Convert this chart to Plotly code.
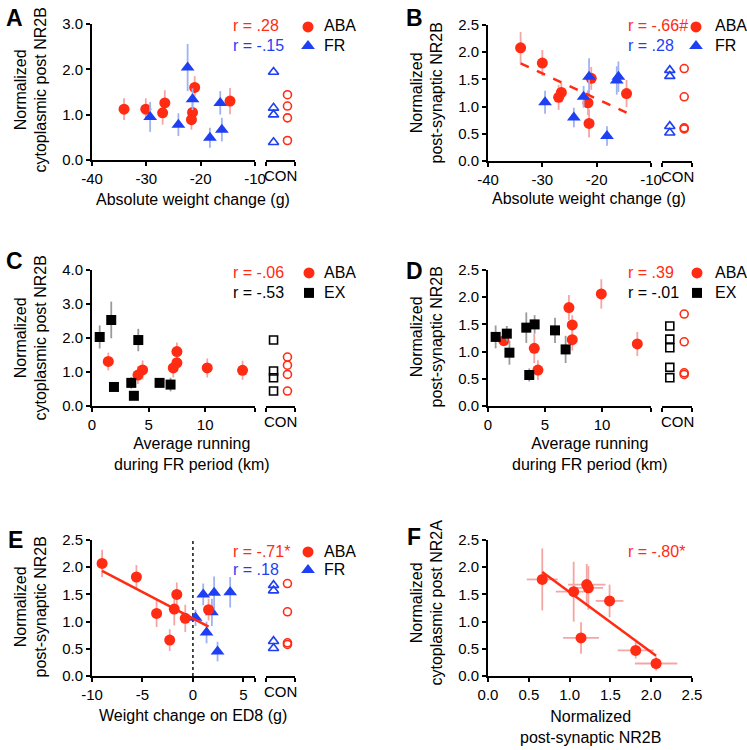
import numpy as np
import plotly.graph_objects as go

W, H = 747, 750
FONT = "Liberation Sans, Arial, Helvetica, sans-serif"
RED = "#FF2B12"
BLUE = "#1F3FF2"
BLACK = "#000000"
RED_ERR = "#F6A5A5"
BLUE_ERR = "#9FB2F2"
GRAY_ERR = "#9A9A9A"

# ---------------- data ----------------
# Panel A: cytoplasmic post NR2B vs absolute weight change
A_ABA_x = [-34.1, -30.1, -27.0, -26.6, -21.1, -21.5, -21.7, -14.6]
A_ABA_y = [1.12, 1.12, 1.04, 1.26, 1.60, 1.05, 0.89, 1.30]
A_ABA_e = [0.24, 0.24, 0.26, 0.28, 0.25, 0.25, 0.22, 0.29]
A_FR_x = [-29.3, -24.1, -22.4, -21.5, -18.3, -16.4, -16.1]
A_FR_y = [0.95, 0.78, 2.04, 1.34, 0.49, 1.26, 0.67]
A_FR_e = [0.33, 0.25, 0.52, 0.24, 0.22, 0.26, 0.26]
A_CON_ABA = [1.44, 1.19, 0.93, 0.43]
A_CON_FR = [1.94, 1.15, 1.00, 0.39]

# Panel B: post-synaptic NR2B vs absolute weight change
B_ABA_x = [-34.0, -30.0, -26.5, -27.0, -21.0, -21.6, -21.4, -14.5]
B_ABA_y = [2.08, 1.80, 1.26, 1.17, 1.52, 1.07, 0.69, 1.24]
B_ABA_e = [0.29, 0.24, 0.18, 0.23, 0.21, 0.23, 0.26, 0.25]
B_FR_x = [-29.5, -24.2, -22.4, -21.4, -18.1, -16.3, -16.0]
B_FR_y = [1.08, 0.80, 1.18, 1.55, 0.46, 1.48, 1.55]
B_FR_e = [0.21, 0.18, 0.20, 0.34, 0.18, 0.26, 0.28]
B_CON_ABA = [1.70, 1.18, 0.61, 0.59]
B_CON_FR = [1.67, 1.56, 0.64, 0.52]

# Panel C: cytoplasmic post NR2B vs average running
C_ABA_x = [1.44, 4.06, 4.47, 7.18, 7.5, 7.5, 10.18, 13.3]
C_ABA_y = [1.31, 0.91, 1.06, 1.12, 1.60, 1.27, 1.12, 1.05]
C_ABA_e = [0.26, 0.26, 0.28, 0.28, 0.27, 0.26, 0.28, 0.28]
C_EX_x = [0.68, 1.70, 1.94, 3.47, 3.70, 4.09, 5.97, 6.94]
C_EX_y = [2.03, 2.53, 0.56, 0.68, 0.30, 1.94, 0.68, 0.63]
C_EX_e = [0.34, 0.54, 0.08, 0.17, 0.06, 0.33, 0.10, 0.20]
C_CON_ABA = [1.44, 1.20, 0.93, 0.44]
C_CON_EX = [1.94, 1.03, 0.83, 0.44]

# Panel D: post-synaptic NR2B vs average running
D_ABA_x = [1.39, 4.06, 4.38, 7.10, 7.39, 7.39, 9.94, 13.1]
D_ABA_y = [1.20, 1.06, 0.66, 1.81, 1.49, 1.22, 2.06, 1.14]
D_ABA_e = [0.08, 0.27, 0.18, 0.23, 0.18, 0.20, 0.27, 0.22]
D_EX_x = [0.67, 1.65, 1.88, 3.36, 4.09, 3.62, 5.88, 6.81]
D_EX_y = [1.27, 1.33, 0.98, 1.44, 1.50, 0.57, 1.39, 1.04]
D_EX_e = [0.21, 0.14, 0.22, 0.28, 0.17, 0.12, 0.23, 0.25]
D_CON_ABA = [1.69, 1.18, 0.61, 0.58]
D_CON_EX = [1.47, 1.23, 1.07, 0.71, 0.52]

# Panel E: post-synaptic NR2B vs weight change on ED8
E_ABA_x = [-9.0, -5.6, -3.6, -2.3, -1.85, -1.6, -0.76, 1.55]
E_ABA_y = [2.07, 1.82, 1.15, 0.66, 1.23, 1.50, 1.06, 1.22]
E_ABA_e = [0.25, 0.22, 0.25, 0.20, 0.30, 0.22, 0.25, 0.20]
E_FR_x = [0.26, 1.02, 1.35, 1.88, 2.10, 2.44, 3.69]
E_FR_y = [1.07, 1.50, 0.80, 1.17, 1.53, 0.45, 1.54]
E_FR_e = [0.15, 0.20, 0.20, 0.25, 0.30, 0.18, 0.28]
E_CON_ABA = [1.70, 1.18, 0.61, 0.58]
E_CON_FR = [1.67, 1.57, 0.64, 0.51]

# Panel F: cytoplasmic post NR2A vs post-synaptic NR2B (ABA)
F_x = [0.665, 1.05, 1.21, 1.23, 1.49, 1.14, 1.81, 2.06]
F_y = [1.775, 1.55, 1.68, 1.62, 1.38, 0.70, 0.47, 0.23]
F_xe = [0.19, 0.22, 0.23, 0.18, 0.17, 0.22, 0.22, 0.26]
F_ye = [0.57, 0.55, 0.38, 0.40, 0.30, 0.29, 0.15, 0.13]

R_TEXT = {
    "A": [("r = .28", RED), ("r = -.15", BLUE)],
    "B": [("r = -.66#", RED), ("r = .28", BLUE)],
    "C": [("r = -.06", RED), ("r = -.53", BLACK)],
    "D": [("r = .39", RED), ("r = -.01", BLACK)],
    "E": [("r = -.71*", RED), ("r = .18", BLUE)],
    "F": [("r = -.80*", RED)],
}
GROUP_NAMES = {"A": ["ABA", "FR"], "B": ["ABA", "FR"], "C": ["ABA", "EX"],
               "D": ["ABA", "EX"], "E": ["ABA", "FR"]}

# ---------------- layout helpers ----------------
def fx(px):
    return px / W

def fy(px):
    return 1 - px / H

AX = dict(showline=True, linecolor="black", linewidth=2, ticks="outside",
          ticklen=4, tickwidth=2, tickcolor="black", showgrid=False,
          zeroline=False, tickfont=dict(family=FONT, size=15, color="black"),
          fixedrange=True)

def tk(vals, fmt):
    return [fmt.format(v) for v in vals]

y25 = [0, 0.5, 1.0, 1.5, 2.0, 2.5]
panels = [
    dict(key="A", xm=(92, 255), xc=(266, 295), y=(24, 160), xr=[-40, -10],
         xt=[-40, -30, -20, -10], xtt=["-40", "-30", "-20", "-10"],
         yr=[0, 3], yt=[0, 1, 2, 3]),
    dict(key="B", xm=(488, 651), xc=(662, 692), y=(25, 161), xr=[-40, -10],
         xt=[-40, -30, -20, -10], xtt=["-40", "-30", "-20", "-10"],
         yr=[0, 2.5], yt=y25),
    dict(key="C", xm=(92, 255), xc=(266, 295), y=(270, 406), xr=[0, 14.4],
         xt=[0, 5, 10, 14.4], xtt=["0", "5", "10", ""],
         yr=[0, 4], yt=[0, 1, 2, 3, 4]),
    dict(key="D", xm=(488, 651), xc=(662, 692), y=(270, 406), xr=[0, 14.3],
         xt=[0, 5, 10, 14.3], xtt=["0", "5", "10", ""],
         yr=[0, 2.5], yt=y25),
    dict(key="E", xm=(92, 255), xc=(266, 295), y=(540, 676), xr=[-10, 6.15],
         xt=[-10, -5, 0, 5, 6.15], xtt=["-10", "-5", "0", "5", ""],
         yr=[0, 2.5], yt=y25),
    dict(key="F", xm=(488, 692), xc=None, y=(540, 676), xr=[0, 2.5],
         xt=y25, xtt=tk(y25, "{:.1f}"), yr=[0, 2.5], yt=y25),
]

fig = go.Figure()
layout = {}
annotations = []
ids = {}
xn = 1

def xname(n):
    return "x" if n == 1 else f"x{n}"

def xkey(n):
    return "xaxis" if n == 1 else f"xaxis{n}"

for i, p in enumerate(panels):
    yid = i + 1
    yname = "y" if yid == 1 else f"y{yid}"
    ykey = "yaxis" if yid == 1 else f"yaxis{yid}"
    xm = xn
    xn += 1
    layout[xkey(xm)] = dict(domain=[fx(p["xm"][0]), fx(p["xm"][1])], anchor=yname,
                            range=p["xr"], tickmode="array", tickvals=p["xt"],
                            ticktext=p["xtt"], **AX)
    layout[ykey] = dict(domain=[fy(p["y"][1]), fy(p["y"][0])], anchor=xname(xm),
                        range=p["yr"], tickmode="array", tickvals=p["yt"],
                        ticktext=tk(p["yt"], "{:.1f}"), **AX)
    xc = None
    if p["xc"]:
        xc = xn
        xn += 1
        layout[xkey(xc)] = dict(domain=[fx(p["xc"][0]), fx(p["xc"][1])], anchor=yname,
                                range=[0, 1], tickmode="array", tickvals=[0, 1],
                                ticktext=["", ""], **AX)
        annotations.append(dict(text="CON", xref="paper", yref="paper",
                                x=fx((p["xc"][0] + p["xc"][1]) / 2), y=fy(p["y"][1] + 15),
                                xanchor="center", yanchor="middle", showarrow=False,
                                font=dict(family=FONT, size=15, color="black")))
    ids[p["key"]] = (xname(xm), xname(xc) if xc else None, yname)

CON_X_ABA = 0.74
CON_X_OTHER = 0.26

def err_scatter(key, x, y, e, color, ecolor, symbol, size, xe=None):
    xa, _, ya = ids[key]
    tr = go.Scatter(x=x, y=y, mode="markers", xaxis=xa, yaxis=ya, showlegend=False,
                    marker=dict(color=color, symbol=symbol, size=size, line=dict(width=0)),
                    error_y=dict(type="data", array=e, color=ecolor, thickness=1.8, width=0),
                    cliponaxis=False)
    if xe is not None:
        tr.error_x = dict(type="data", array=xe, color=ecolor, thickness=1.8, width=0)
    fig.add_trace(tr)

def con_scatter(key, y, xpos, color, symbol, size):
    _, xa, ya = ids[key]
    fig.add_trace(go.Scatter(x=[xpos] * len(y), y=y, mode="markers", xaxis=xa, yaxis=ya,
                             showlegend=False, cliponaxis=False,
                             marker=dict(color=color, symbol=symbol, size=size,
                                         line=dict(width=1.6, color=color))))

def fit_line(key, x, y, dash):
    xa, _, ya = ids[key]
    k, b = np.polyfit(x, y, 1)
    xs = np.array([min(x), max(x)])
    fig.add_trace(go.Scatter(x=xs, y=k * xs + b, mode="lines", xaxis=xa, yaxis=ya,
                             showlegend=False, line=dict(color=RED, width=2.5, dash=dash)))

CIRC, TRI, SQ = 11, 12, 10

# Panel A
err_scatter("A", A_ABA_x, A_ABA_y, A_ABA_e, RED, RED_ERR, "circle", CIRC)
err_scatter("A", A_FR_x, A_FR_y, A_FR_e, BLUE, BLUE_ERR, "triangle-up", TRI)
con_scatter("A", A_CON_FR, CON_X_OTHER, BLUE, "triangle-up-open", 9)
con_scatter("A", A_CON_ABA, CON_X_ABA, RED, "circle-open", 8)
# Panel B
err_scatter("B", B_ABA_x, B_ABA_y, B_ABA_e, RED, RED_ERR, "circle", CIRC)
err_scatter("B", B_FR_x, B_FR_y, B_FR_e, BLUE, BLUE_ERR, "triangle-up", TRI)
fit_line("B", B_ABA_x, B_ABA_y, "dash")
con_scatter("B", B_CON_FR, CON_X_OTHER, BLUE, "triangle-up-open", 9)
con_scatter("B", B_CON_ABA, CON_X_ABA, RED, "circle-open", 8)
# Panel C
err_scatter("C", C_ABA_x, C_ABA_y, C_ABA_e, RED, RED_ERR, "circle", CIRC)
err_scatter("C", C_EX_x, C_EX_y, C_EX_e, BLACK, GRAY_ERR, "square", SQ)
con_scatter("C", C_CON_EX, CON_X_OTHER, BLACK, "square-open", 8)
con_scatter("C", C_CON_ABA, CON_X_ABA, RED, "circle-open", 8)
# Panel D
err_scatter("D", D_ABA_x, D_ABA_y, D_ABA_e, RED, RED_ERR, "circle", CIRC)
err_scatter("D", D_EX_x, D_EX_y, D_EX_e, BLACK, GRAY_ERR, "square", SQ)
con_scatter("D", D_CON_EX, CON_X_OTHER, BLACK, "square-open", 8)
con_scatter("D", D_CON_ABA, CON_X_ABA, RED, "circle-open", 8)
# Panel E
err_scatter("E", E_FR_x, E_FR_y, E_FR_e, BLUE, BLUE_ERR, "triangle-up", TRI)
err_scatter("E", E_ABA_x, E_ABA_y, E_ABA_e, RED, RED_ERR, "circle", CIRC)
fit_line("E", E_ABA_x, E_ABA_y, "solid")
con_scatter("E", E_CON_FR, CON_X_OTHER, BLUE, "triangle-up-open", 9)
con_scatter("E", E_CON_ABA, CON_X_ABA, RED, "circle-open", 8)
# Panel F
err_scatter("F", F_x, F_y, F_ye, RED, RED_ERR, "circle", CIRC, xe=F_xe)
fit_line("F", F_x, F_y, "solid")

# legends: one legend per key entry (symbol only), label as annotation
leg_geo = {"A": (309, 322, [27, 46]), "B": (697, 713, [27, 46]),
           "C": (310, 322, [273, 293]), "D": (698, 713, [273, 293]),
           "E": (309, 322, [552, 570])}
second_style = {"A": (BLUE, "triangle-up", TRI), "B": (BLUE, "triangle-up", TRI),
                "C": (BLACK, "square", SQ), "D": (BLACK, "square", SQ),
                "E": (BLUE, "triangle-up", TRI)}
ln = 1
for key, (sx, tx, rows) in leg_geo.items():
    styles = [(RED, "circle", CIRC), second_style[key]]
    xa, _, ya = ids[key]
    for (col, sym, sz), ry, name in zip(styles, rows, GROUP_NAMES[key]):
        lg = "legend" if ln == 1 else f"legend{ln}"
        ln += 1
        fig.add_trace(go.Scatter(x=[None], y=[None], mode="markers", xaxis=xa, yaxis=ya,
                                 name=" ", legend=lg, marker=dict(color=col, symbol=sym, size=sz)))
        layout[lg] = dict(x=fx(sx - 21), y=fy(ry - 17), xanchor="left", yanchor="top",
                          bgcolor="rgba(0,0,0,0)", borderwidth=0, itemwidth=30,
                          font=dict(family=FONT, size=16, color="black"),
                          itemclick=False, itemdoubleclick=False)
        annotations.append(dict(text=name, xref="paper", yref="paper", x=fx(tx), y=fy(ry - 1),
                                xanchor="left", yanchor="middle", showarrow=False,
                                font=dict(family=FONT, size=16, color="black")))

# r annotations
r_pos = {"A": (231, [27, 46]), "B": (626, [27, 46]), "C": (231, [273, 293]),
         "D": (626, [273, 293]), "E": (231, [552, 570]), "F": (626, [552])}
for key, (rx, rys) in r_pos.items():
    for (txt, col), ry in zip(R_TEXT[key], rys):
        annotations.append(dict(text=txt, xref="paper", yref="paper", x=fx(rx), y=fy(ry - 1),
                                xanchor="left", yanchor="middle", showarrow=False,
                                font=dict(family=FONT, size=16, color=col)))

# panel letters
for key, (lx, ly) in {"A": (14, 18), "B": (414, 18), "C": (14, 261), "D": (414, 271),
                      "E": (15, 540), "F": (414, 537)}.items():
    annotations.append(dict(text=f"<b>{key}</b>", xref="paper", yref="paper", x=fx(lx), y=fy(ly),
                            xanchor="center", yanchor="middle", showarrow=False,
                            font=dict(family=FONT, size=23, color="black")))

# axis titles
def title(text, x, y, angle=0):
    annotations.append(dict(text=text, xref="paper", yref="paper", x=fx(x), y=fy(y),
                            xanchor="center", yanchor="middle", showarrow=False,
                            textangle=angle, font=dict(family=FONT, size=16, color="black")))

title("Normalized<br>cytoplasmic post NR2B", 30.5, 90, -90)
title("Normalized<br>post-synaptic NR2B", 426.5, 93, -90)
title("Normalized<br>cytoplasmic post NR2B", 30.5, 338, -90)
title("Normalized<br>post-synaptic NR2B", 426.5, 337, -90)
title("Normalized<br>post-synaptic NR2B", 30.5, 607, -90)
title("Normalized<br>cytoplasmic post NR2A", 426.5, 603, -90)
title("Absolute weight change (g)", 193, 200)
title("Absolute weight change (g)", 589, 198)
title("Average running<br>during FR period (km)", 192, 454)
title("Average running<br>during FR period (km)", 590, 454)
title("Weight change on ED8 (g)", 193, 715)
title("Normalized<br>post-synaptic NR2B", 590, 727)

shapes = [dict(type="line", xref=ids["E"][0], yref=ids["E"][2], x0=0, x1=0, y0=0, y1=2.5,
               line=dict(color="black", width=1.4, dash="dot"), layer="below")]

fig.update_layout(**layout)
fig.update_layout(width=W, height=H, margin=dict(l=0, r=0, t=0, b=0, autoexpand=False),
                  paper_bgcolor="white", plot_bgcolor="white",
                  annotations=annotations, shapes=shapes,
                  font=dict(family=FONT, size=15, color="black"))
fig.write_html("out.html", config={"displayModeBar": False, "staticPlot": False},
               post_script="document.body.style.margin='0px';document.body.style.overflow='hidden';")
